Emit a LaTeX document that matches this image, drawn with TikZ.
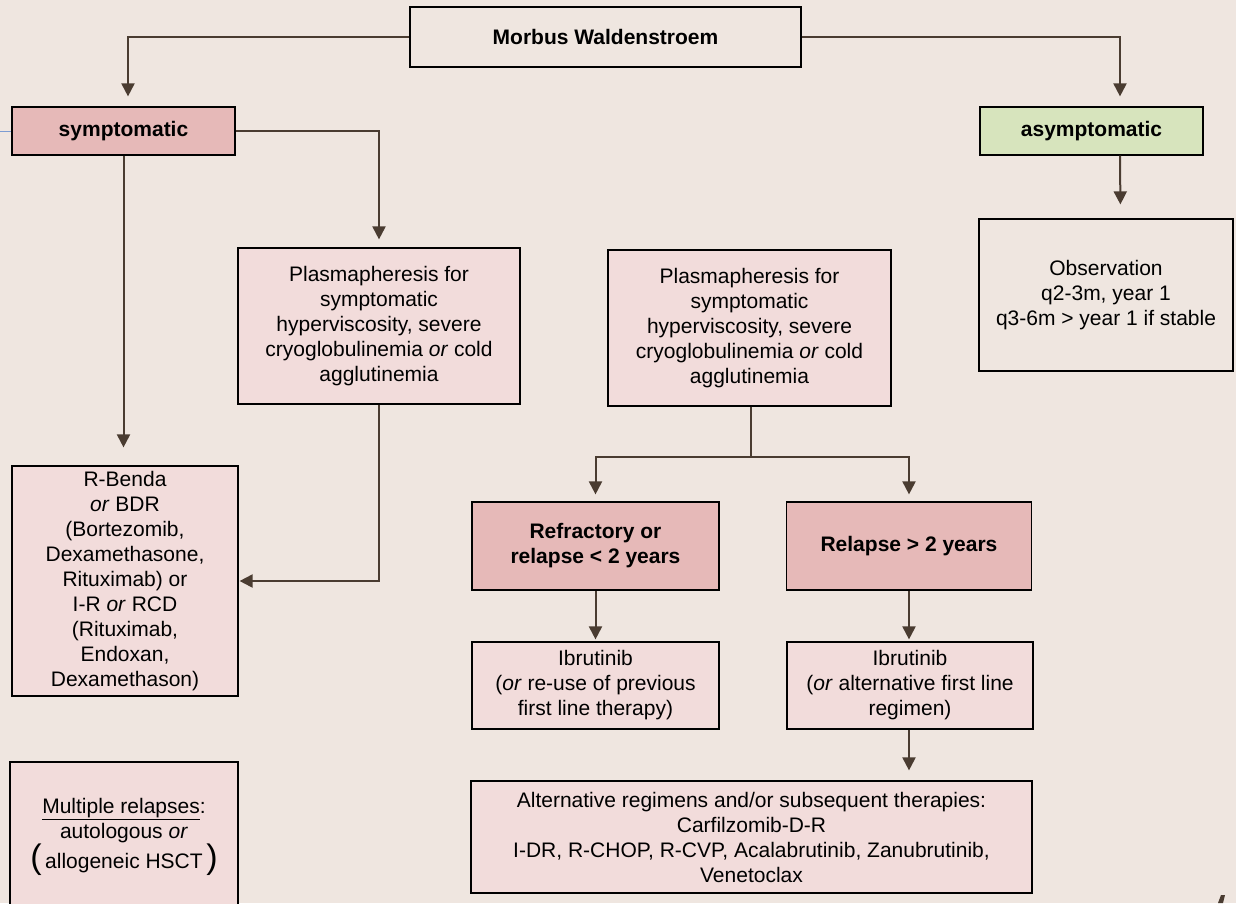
\documentclass[tikz,border=0pt]{standalone}
\usepackage{fontspec}
\setmainfont{Liberation Sans}
\usetikzlibrary{arrows.meta,calc}
\definecolor{bg}{HTML}{EFE6E0}
\definecolor{lightpink}{HTML}{F2DCDB}
\definecolor{darkpink}{HTML}{E6B9B8}
\definecolor{lightgreen}{HTML}{D7E4BD}
\definecolor{arrowbrown}{HTML}{4A3C31}
\definecolor{strayblue}{HTML}{7C9CD2}
\tikzset{
  box/.style={draw=black, line width=1.2pt, align=center, inner sep=0pt,
    font=\fontsize{21}{25}\selectfont},
  lbox/.style={box, fill=lightpink},
  dbox/.style={box, fill=darkpink, font=\fontsize{21}{25}\selectfont\bfseries},
  gbox/.style={box, fill=lightgreen, font=\fontsize{21}{25}\selectfont\bfseries},
  conn/.style={draw=arrowbrown, line width=2pt},
  arr/.style={conn, -{Triangle[width=13pt,length=13pt]}},
}
\begin{document}
\begin{tikzpicture}[x=1pt,y=-1pt]
\useasboundingbox (0,0) rectangle (1236,903);
\fill[bg] (0,0) rectangle (1236,903);

% nodes
\node[box, font=\fontsize{21}{25}\selectfont\bfseries, minimum width=391pt, minimum height=60pt] (morbus) at (605.5,37) {Morbus Waldenstroem};
\node[dbox, minimum width=223pt, minimum height=48pt] (sym) at (123.5,131) {symptomatic};
\node[gbox, minimum width=223pt, minimum height=48pt] (asym) at (1091.5,131) {asymptomatic};
\node[lbox, minimum width=282pt, minimum height=156pt] (plasA) at (379,326) {Plasmapheresis for\\symptomatic\\hyperviscosity, severe\\cryoglobulinemia \textit{or} cold\\agglutinemia};
\node[lbox, minimum width=283pt, minimum height=156pt] (plasB) at (749.5,328) {Plasmapheresis for\\symptomatic\\hyperviscosity, severe\\cryoglobulinemia \textit{or} cold\\agglutinemia};
\node[box, minimum width=254pt, minimum height=152pt] (obs) at (1106,295) {Observation\\q2-3m, year 1\\q3-6m > year 1 if stable};
\node[lbox, minimum width=226pt, minimum height=230pt] (benda) at (125,581) {R-Benda\\\textit{or} BDR\\(Bortezomib,\\Dexamethasone,\\Rituximab) or\\I-R \textit{or} RCD\\(Rituximab,\\Endoxan,\\Dexamethason)};
\node[dbox, minimum width=247pt, minimum height=88pt] (refr) at (595.5,546) {Refractory or\\relapse < 2 years};
\node[dbox, minimum width=245pt, minimum height=88pt] (rel) at (909,546) {Relapse > 2 years};
\node[lbox, minimum width=247pt, minimum height=87pt] (ibA) at (595.5,685.5) {Ibrutinib\\(\textit{or} re-use of previous\\first line therapy)};
\node[lbox, minimum width=246pt, minimum height=87pt] (ibB) at (910,685.5) {Ibrutinib\\(\textit{or} alternative first line\\regimen)};
\node[lbox, minimum width=561pt, minimum height=112pt] (alt) at (751.5,837) {Alternative regimens and/or subsequent therapies:\\Carfilzomib-D-R\\I-DR, R-CHOP, R-CVP, Acalabrutinib, Zanubrutinib,\\Venetoclax};
\node[lbox, minimum width=228pt, minimum height=150pt] (multi) at (124,837) {\underline{Multiple relapses}:\\autologous \textit{or}\\{\fontsize{34}{25}\selectfont(}\,allogeneic HSCT\,{\fontsize{34}{25}\selectfont)}};

% connectors
\draw[arr, shorten >=10pt] (morbus.west) -| ([xshift=4.5pt]sym.north);
\draw[arr, shorten >=10pt] (morbus.east) -| ([xshift=28.5pt]asym.north);
\draw[arr, shorten >=14pt] ([xshift=28.5pt]asym.south) -- ([xshift=14.5pt]obs.north);
\draw[arr, shorten >=8pt] (sym.east) -| (plasA.north);
\draw[arr, shorten >=18pt] (sym.south) -- (benda.north -| sym.south);
\draw[arr, shorten >=1pt] (plasA.south) |- (benda.east);
\coordinate (split) at ($(plasB.south)+(1.5,50)$);
\draw[conn] ([xshift=1.5pt]plasB.south) -- (split);
\draw[arr, shorten >=7pt] (split) -| (refr.north);
\draw[arr, shorten >=7pt] (split) -| (rel.north);
\draw[arr, shorten >=2pt] (refr.south) -- (ibA.north);
\draw[arr, shorten >=2pt] (rel.south) -- (rel.south |- ibA.north);
\draw[arr, shorten >=10pt] ([xshift=-1pt]ibB.south) -- ($(ibB.south |- alt.north)+(-1,0)$);

% stray marks
\draw[strayblue, line width=1pt] (0,131) -- (sym.west);
\fill[arrowbrown] (1218,903) -- (1221,895) -- (1225,895) -- (1223,903) -- cycle;
\end{tikzpicture}
\end{document}
